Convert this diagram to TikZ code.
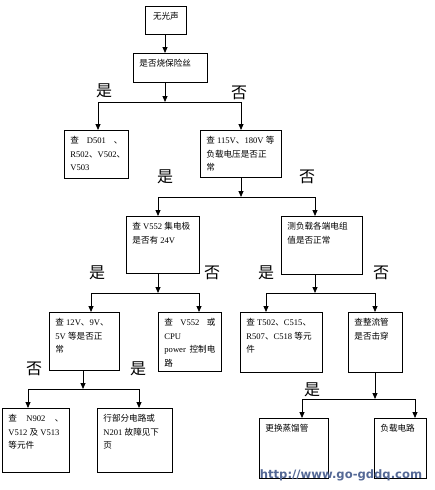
\documentclass[tikz,border=0pt]{standalone}
\usepackage{fontspec}
\setmainfont{Liberation Serif}
\newfontfamily\cjk{Noto Sans CJK SC}
\newfontfamily\wmfont{DejaVu Sans}
\usetikzlibrary{arrows.meta}
\definecolor{wmblue}{RGB}{85,105,150}
\newcommand{\zh}[1]{{\cjk #1}}
\newcommand{\boxtext}[3]{\parbox[t][\dimexpr#2pt-12pt\relax][t]{\dimexpr#1pt-12pt\relax}{\raggedright #3}}

\begin{document}
\begin{tikzpicture}[x=1pt,y=-1pt,
box/.style={draw,line width=0.8pt,anchor=north west,inner xsep=6pt,inner ysep=6pt,font=\fontsize{8.6}{13.5}\selectfont},
yn/.style={font=\cjk\fontsize{16}{16}\selectfont,inner sep=0pt},
wm/.style={font=\wmfont\bfseries\fontsize{11.6}{11.6}\selectfont,text=wmblue,inner sep=0pt},
arrow/.style={-{Triangle[length=6pt,width=5pt]},line width=0.8pt},
link/.style={line width=0.8pt} ]

\useasboundingbox (0,0) rectangle (435,490);

\node[box](A) at (145,6) {\boxtext{41}{28}{\centering\zh{无光声}}};

\node[box](B) at (133,53) {\boxtext{74}{29}{\zh{是否烧保险丝}}};

\node[box](C) at (64,130) {\boxtext{64}{48}{\zh{查}\hfill D501\hfill\zh{、}\\R502\zh{、}V502\zh{、}\\V503}};

\node[box](D) at (200,130) {\boxtext{81}{47}{\zh{查}~115V\zh{、}180V~\zh{等}\\\zh{负载电压是否正}\\\zh{常}}};

\node[box](E) at (126,216) {\boxtext{73}{57}{\zh{查}~V552~\zh{集电极}\\\zh{是否有}~24V}};

\node[box](F) at (281,216) {\boxtext{81}{58}{\zh{测负载各端电组}\\\zh{值是否正常}}};

\node[box](G) at (49,312) {\boxtext{70}{58}{\zh{查}~12V\zh{、}9V\zh{、}\\5V~\zh{等是否正}\\\zh{常}}};

\node[box](H) at (158,312) {\boxtext{63}{59}{\zh{查}\hfill V552\hfill\zh{或}\\CPU\\power\hfill\zh{控制电}\\\zh{路}}};

\node[box](I) at (240,312) {\boxtext{82}{60}{\zh{查}~T502\zh{、}C515\zh{、}\\R507\zh{、}C518~\zh{等元}\\\zh{件}}};

\node[box](J) at (348,312) {\boxtext{54}{60}{\zh{查整流管}\\\zh{是否击穿}}};

\node[box](K) at (2,408) {\boxtext{67}{64}{\zh{查}\hfill N902\hfill\zh{、}\\V512~\zh{及}~V513\\\zh{等元件}}};

\node[box](L) at (97,408) {\boxtext{75}{64}{\zh{行部分电路或}\\N201~\zh{故障见下}\\\zh{页}}};

\node[box](M) at (259,418) {\boxtext{69}{60}{\zh{更换蒸馏管}}};

\node[box](N) at (374,418) {\boxtext{52}{60}{\zh{负载电路}}};

% yes / no labels
\node[yn](yB) at (104,91) {是};
\node[yn](nB) at (239,93) {否};
\node[yn](yD) at (165,177) {是};
\node[yn](nD) at (307,177) {否};
\node[yn](yE) at (97,273) {是};
\node[yn](nE) at (212,273) {否};
\node[yn](yF) at (266,273) {是};
\node[yn](nF) at (381,273) {否};
\node[yn](nG) at (34,369) {否};
\node[yn](yG) at (138,369) {是};
\node[yn](yJ) at (312,390) {是};

% junctions
\coordinate (jB) at (165,102);
\coordinate (jBl) at (98,102);
\coordinate (jBr) at (241,102);
\coordinate (jD) at (241,197);
\coordinate (jDl) at (158,197);
\coordinate (jDr) at (315,197);
\coordinate (jE) at (158,293);
\coordinate (jEl) at (91,293);
\coordinate (jEr) at (199,293);
\coordinate (jF) at (315,293);
\coordinate (jFl) at (266,293);
\coordinate (jFr) at (375,293);
\coordinate (jG) at (83,389);
\coordinate (jGl) at (28,389);
\coordinate (jGr) at (139,389);
\coordinate (jJ) at (375,399);
\coordinate (jJl) at (302,399);
\coordinate (jJr) at (415,399);

\draw[arrow] (A.south -| jB) -- (B.north -| jB);

\draw[arrow] (B.south -| jB) -- (jB);
\draw[link] (jBl) -- (jBr);
\draw[arrow] (jBl) -- (C.north -| jBl);
\draw[arrow] (jBr) -- (D.north -| jBr);

\draw[arrow] (D.south -| jD) -- (jD);
\draw[link] (jDl) -- (jDr);
\draw[arrow] (jDl) -- (E.north -| jDl);
\draw[arrow] (jDr) -- (F.north -| jDr);

\draw[arrow] (E.south -| jE) -- (jE);
\draw[link] (jEl) -- (jEr);
\draw[arrow] (jEl) -- (G.north -| jEl);
\draw[arrow] (jEr) -- (H.north -| jEr);

\draw[arrow] (F.south -| jF) -- (jF);
\draw[link] (jFl) -- (jFr);
\draw[arrow] (jFl) -- (I.north -| jFl);
\draw[arrow] (jFr) -- (J.north -| jFr);

\draw[arrow] (G.south -| jG) -- (jG);
\draw[link] (jGl) -- (jGr);
\draw[arrow] (jGl) -- (K.north -| jGl);
\draw[arrow] (jGr) -- (L.north -| jGr);

\draw[arrow] (J.south -| jJ) -- (jJ);
\draw[link] (jJl) -- (jJr);
\draw[arrow] (jJl) -- (M.north -| jJl);
\draw[arrow] (jJr) -- (N.north -| jJr);

\node[wm](wm) at (341,475) {http://www.go-gddq.com};

\end{tikzpicture}
\end{document}
